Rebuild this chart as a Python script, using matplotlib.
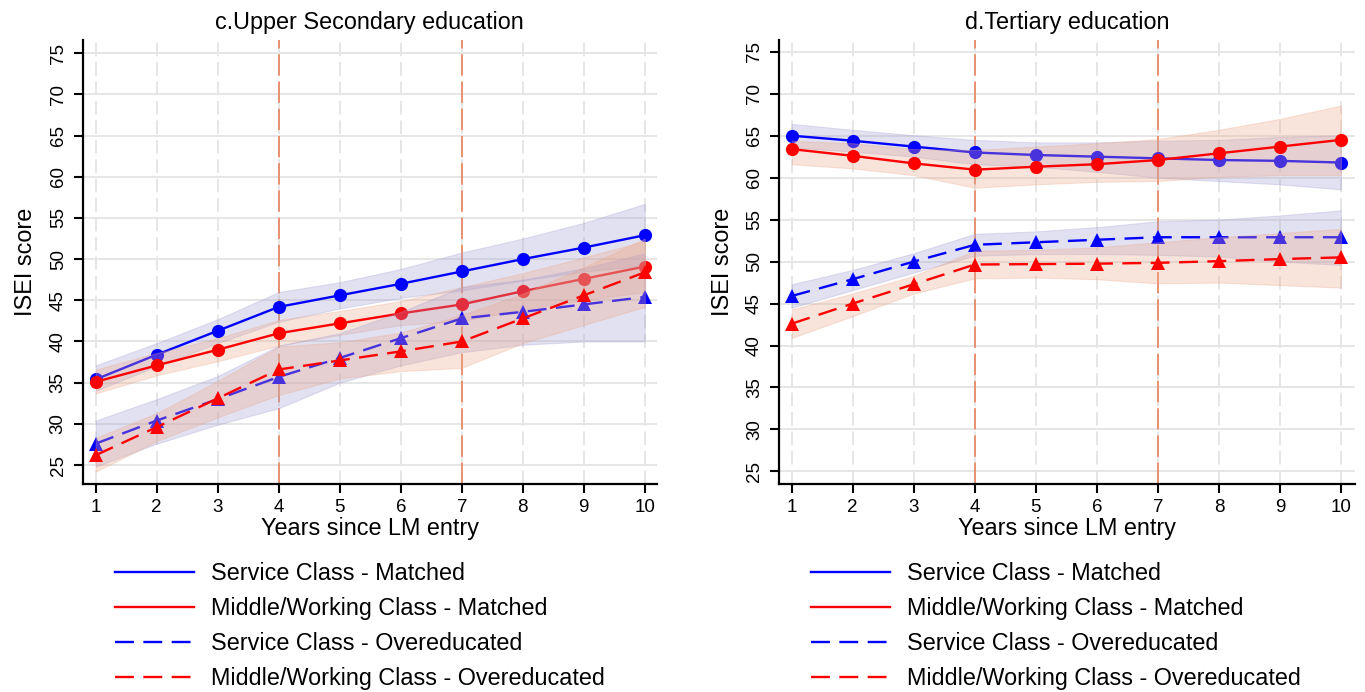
import matplotlib
matplotlib.use("Agg")
import matplotlib.pyplot as plt
from matplotlib.lines import Line2D

plt.rcParams["font.family"] = ["Liberation Sans", "DejaVu Sans"]

years = [1, 2, 3, 4, 5, 6, 7, 8, 9, 10]
x_ticks = [1, 2, 3, 4, 5, 6, 7, 8, 9, 10]
y_ticks = [25, 30, 35, 40, 45, 50, 55, 60, 65, 70, 75]
ref_years = [4, 7]

series_labels = [
    "Service Class - Matched",
    "Middle/Working Class - Matched",
    "Service Class - Overeducated",
    "Middle/Working Class - Overeducated",
]

# ---- c. Upper Secondary education ----
upper_title = "c.Upper Secondary education"
upper_sm = [35.4, 38.4, 41.3, 44.2, 45.6, 47.0, 48.5, 50.0, 51.4, 52.9]
upper_sm_lo = [34.0, 37.0, 39.8, 42.4, 44.0, 45.3, 46.2, 47.4, 48.5, 49.2]
upper_sm_hi = [37.1, 39.8, 42.7, 46.0, 47.2, 48.8, 50.8, 52.5, 54.4, 56.7]
upper_mm = [35.1, 37.1, 39.0, 41.0, 42.2, 43.4, 44.5, 46.1, 47.6, 49.1]
upper_mm_lo = [33.7, 35.9, 37.6, 39.5, 40.8, 42.0, 42.5, 43.9, 45.0, 46.0]
upper_mm_hi = [36.6, 38.6, 40.4, 42.6, 43.7, 44.9, 46.6, 48.3, 50.2, 52.2]
upper_so = [27.6, 30.4, 33.0, 35.7, 38.0, 40.4, 42.8, 43.6, 44.5, 45.4]
upper_so_lo = [24.8, 27.6, 29.9, 31.9, 35.0, 37.1, 38.7, 39.6, 40.0, 40.0]
upper_so_hi = [30.4, 33.0, 35.8, 39.5, 41.0, 43.6, 46.6, 47.5, 48.9, 50.7]
upper_mo = [26.2, 29.6, 33.1, 36.6, 37.7, 38.8, 40.0, 42.8, 45.6, 48.4]
upper_mo_lo = [24.2, 27.9, 30.8, 33.5, 35.5, 36.4, 36.8, 39.8, 42.0, 44.2]
upper_mo_hi = [28.3, 31.3, 35.2, 39.4, 39.9, 41.1, 43.2, 45.8, 49.0, 52.5]

# ---- d. Tertiary education ----
tert_title = "d.Tertiary education"
tert_sm = [65.0, 64.4, 63.7, 63.0, 62.7, 62.5, 62.3, 62.1, 62.0, 61.8]
tert_sm_lo = [63.6, 63.1, 62.5, 61.6, 61.3, 60.7, 60.0, 59.6, 59.2, 58.6]
tert_sm_hi = [66.4, 65.7, 65.05, 64.5, 64.2, 64.2, 64.4, 64.5, 64.85, 65.05]
tert_mm = [63.4, 62.6, 61.7, 60.95, 61.3, 61.6, 62.1, 62.9, 63.7, 64.5]
tert_mm_lo = [61.6, 61.1, 60.3, 58.8, 59.2, 59.5, 59.6, 60.1, 60.3, 60.3]
tert_mm_hi = [64.4, 64.1, 63.4, 63.3, 63.7, 64.1, 64.6, 65.7, 67.0, 68.6]
tert_so = [45.9, 47.9, 50.0, 52.0, 52.3, 52.6, 52.9, 52.9, 52.9, 52.9]
tert_so_lo = [44.5, 46.6, 48.7, 50.7, 50.9, 50.9, 50.8, 50.6, 50.0, 49.6]
tert_so_hi = [47.3, 49.0, 51.0, 53.3, 53.6, 54.1, 54.8, 55.0, 55.5, 56.1]
tert_mo = [42.6, 45.0, 47.3, 49.65, 49.7, 49.75, 49.85, 50.05, 50.3, 50.5]
tert_mo_lo = [40.9, 43.5, 46.2, 48.0, 48.1, 47.9, 47.4, 47.5, 47.2, 46.9]
tert_mo_hi = [44.3, 46.2, 48.3, 51.3, 51.4, 51.7, 52.3, 52.9, 53.4, 53.9]

BLUE = "#0000ff"
RED = "#ff0000"
BAND_SERVICE = "#a29ed2"
BAND_MIDDLE = "#eca88a"
REF_COLOR = "#e8916f"
GRID_COLOR = "#e6e6e6"
DASHED = (0, (8, 4))

FS_BIG = 16.8
FS_TICK = 13.5

fig = plt.figure(figsize=(13.65, 6.92), dpi=100)
ax_left = fig.add_axes([82.7 / 1365, 1 - 484 / 692, (657 - 82.7) / 1365, 444 / 692])
ax_right = fig.add_axes([779 / 1365, 1 - 484 / 692, (1355 - 779) / 1365, 444 / 692])


def draw_panel(ax, title, ylim, xlim, groups):
    ax.set_xlim(*xlim)
    ax.set_ylim(*ylim)
    ax.set_xticks(x_ticks)
    ax.set_yticks(y_ticks)

    for y in y_ticks:
        ax.axhline(y, color=GRID_COLOR, lw=1.4, zorder=0)
    for x in x_ticks:
        ax.axvline(x, color=GRID_COLOR, lw=1.4, ls=(0, (7, 3)), zorder=0)
    for x in ref_years:
        ax.axvline(x, color=REF_COLOR, lw=1.4, ls=(0, (11, 3)), zorder=1)

    z = 2
    for mean, lo, hi, band_col, line_col, ls, marker in groups:
        ax.fill_between(years, lo, hi, facecolor=band_col, alpha=0.3,
                        edgecolor=band_col, linewidth=0.8, zorder=z)
        ax.plot(years, mean, color=line_col, lw=1.7, ls=ls, marker=marker,
                markersize=9.5 if marker == "o" else 10, markeredgewidth=0,
                zorder=z + 1)
        z += 2

    for side in ("top", "right"):
        ax.spines[side].set_visible(False)
    for side in ("left", "bottom"):
        ax.spines[side].set_linewidth(1.6)
    ax.tick_params(axis="both", length=6.5, width=1.5, labelsize=FS_TICK)
    ax.tick_params(axis="x", pad=4)
    ax.tick_params(axis="y", pad=5, labelrotation=90)
    for lab in ax.get_yticklabels():
        lab.set_va("center")

    ax.set_title(title, fontsize=FS_BIG, pad=8)
    ax.set_xlabel("Years since LM entry", fontsize=FS_BIG, labelpad=1)
    ax.set_ylabel("ISEI score", fontsize=FS_BIG, labelpad=9)


draw_panel(
    ax_left, upper_title, (22.7, 76.6), (0.787, 10.2),
    [
        (upper_sm, upper_sm_lo, upper_sm_hi, BAND_SERVICE, BLUE, "-", "o"),
        (upper_mm, upper_mm_lo, upper_mm_hi, BAND_MIDDLE, RED, "-", "o"),
        (upper_so, upper_so_lo, upper_so_hi, BAND_SERVICE, BLUE, DASHED, "^"),
        (upper_mo, upper_mo_lo, upper_mo_hi, BAND_MIDDLE, RED, DASHED, "^"),
    ],
)
draw_panel(
    ax_right, tert_title, (23.5, 76.4), (0.792, 10.23),
    [
        (tert_sm, tert_sm_lo, tert_sm_hi, BAND_SERVICE, BLUE, "-", "o"),
        (tert_mm, tert_mm_lo, tert_mm_hi, BAND_MIDDLE, RED, "-", "o"),
        (tert_so, tert_so_lo, tert_so_hi, BAND_SERVICE, BLUE, DASHED, "^"),
        (tert_mo, tert_mo_lo, tert_mo_hi, BAND_MIDDLE, RED, DASHED, "^"),
    ],
)

handle_styles = [(BLUE, "-"), (RED, "-"), (BLUE, DASHED), (RED, DASHED)]
for x_px in (115, 811):
    handles = [Line2D([0], [0], color=c, ls=s, lw=1.7) for c, s in handle_styles]
    fig.legend(handles, series_labels, loc="upper left",
               bbox_to_anchor=(x_px / 1365, 1 - 562 / 692),
               frameon=False, fontsize=FS_BIG, handlelength=3.4,
               handletextpad=0.72, labelspacing=0.52, borderpad=0,
               borderaxespad=0)

fig.savefig("out.png", dpi=100)
